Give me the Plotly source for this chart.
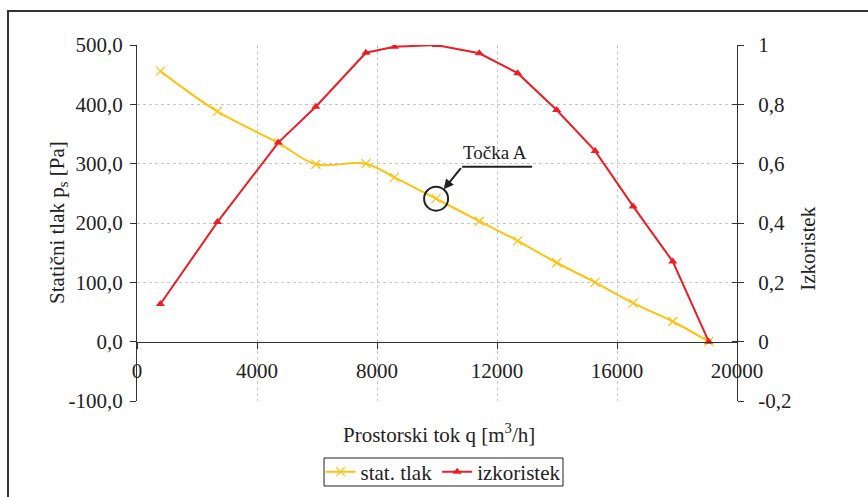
import plotly.graph_objects as go

# ---- data ----
q = [780, 2680, 4710, 5960, 7630, 8580, 9970, 11410, 12690, 13990, 15270, 16540, 17860, 19060]
stat_tlak = [456, 388, 335, 299, 300, 277, 241, 203, 170, 133, 100, 65, 34, 0]
izkoristek = [0.127, 0.403, 0.671, 0.792, 0.974, 0.994, 1.0, 0.972, 0.905, 0.781, 0.643, 0.456, 0.27, 0.0]

x_ticks = [0, 4000, 8000, 12000, 16000, 20000]
x_ticktext = ["0", "4000", "8000", "12000", "16000", "20000"]
y_ticks = [-100, 0, 100, 200, 300, 400, 500]
y_ticktext = ["-100,0", "0,0", "100,0", "200,0", "300,0", "400,0", "500,0"]
y_grid = [-100, 100, 200, 300, 400]
y2_ticks = [-0.2, 0, 0.2, 0.4, 0.6, 0.8, 1.0]
y2_ticktext = ["-0,2", "0", "0,2", "0,4", "0,6", "0,8", "1"]

point_A = (9970, 241)

FONT = "Liberation Serif"
TXT = "#222222"
AX = "#333333"
YEL = "#FFC20E"
RED = "#EE1C25"

fig = go.Figure()

fig.add_trace(go.Scatter(
    x=q, y=stat_tlak, name="stat. tlak", mode="lines+markers",
    line=dict(color=YEL, width=2, shape="spline", smoothing=1.0),
    marker=dict(symbol="x-thin", size=9, line=dict(color=YEL, width=1.2)),
    yaxis="y", xaxis="x",
))
fig.add_trace(go.Scatter(
    x=q, y=izkoristek, name="izkoristek", mode="lines+markers",
    line=dict(color=RED, width=2),
    marker=dict(symbol="triangle-up", size=8, color=RED),
    yaxis="y2", xaxis="x",
))
# helper traces for grid axis and inner ticks of right axis
fig.add_trace(go.Scatter(x=[None], y=[None], yaxis="y3", showlegend=False, hoverinfo="skip"))
fig.add_trace(go.Scatter(x=[None], y=[None], yaxis="y4", showlegend=False, hoverinfo="skip"))

yr = [-100, 500]
y2r = [-0.2, 1.0]

fig.update_layout(
    width=868, height=497,
    margin=dict(l=137, r=131, t=45, b=96, autoexpand=False),
    paper_bgcolor="white", plot_bgcolor="white",
    font=dict(family=FONT, size=21, color=TXT),
    showlegend=True,
    legend=dict(orientation="h", xref="container", yref="container",
                x=0.5104, xanchor="center", y=1 - 472 / 497, yanchor="middle",
                borderwidth=0, itemwidth=30,
                font=dict(family=FONT, size=21, color=TXT), bgcolor="rgba(0,0,0,0)",
                tracegroupgap=0),
    xaxis=dict(range=[0, 20000], tickvals=x_ticks, ticktext=x_ticktext,
               anchor="free", position=1/6, automargin=False,
               showline=True, linecolor=AX, linewidth=1,
               ticks="outside", ticklen=6, tickcolor=AX,
               showgrid=True, gridcolor="#c8c8c8", griddash="dot", gridwidth=1,
               zeroline=False, ticklabelstandoff=4),
    yaxis=dict(range=yr, tickvals=y_ticks, ticktext=y_ticktext, automargin=False,
               showline=True, linecolor=AX, linewidth=1,
               ticks="outside", ticklen=6, tickcolor=AX,
               showgrid=False, zeroline=False, ticklabelstandoff=3),
    yaxis2=dict(range=y2r, tickvals=y2_ticks, ticktext=y2_ticktext,
                overlaying="y", side="right", anchor="x", automargin=False,
                showline=True, linecolor=AX, linewidth=1,
                ticks="outside", ticklen=6, tickcolor=AX,
                showgrid=False, zeroline=False, ticklabelstandoff=10),
    yaxis3=dict(range=yr, tickvals=y_grid, overlaying="y", showticklabels=False,
                automargin=False,
                ticks="", showline=False, showgrid=True, gridcolor="#c8c8c8",
                griddash="dot", gridwidth=1, zeroline=False),
    yaxis4=dict(range=y2r, tickvals=y2_ticks, overlaying="y", side="right", anchor="x",
                automargin=False,
                showticklabels=False, ticks="inside", ticklen=5, tickcolor=AX,
                showline=False, showgrid=False, zeroline=False),
)

annotations = [
    dict(text="Prostorski tok q [m<sup>3</sup>/h]", xref="paper", yref="paper",
         x=0.503, y=-0.09, xanchor="center", yanchor="middle", showarrow=False,
         font=dict(family=FONT, size=21, color=TXT)),
    dict(text="Statični tlak p<sub>s</sub> [Pa]", xref="paper", yref="paper",
         x=-0.1317, y=0.503, xanchor="center", yanchor="middle", textangle=-90,
         showarrow=False, font=dict(family=FONT, size=21, color=TXT)),
    dict(text="Izkoristek", xref="paper", yref="paper",
         x=1.118, y=0.427, xanchor="center", yanchor="middle", textangle=-90,
         showarrow=False, font=dict(family=FONT, size=21, color=TXT)),
    dict(text="Točka A", x=point_A[0], y=point_A[1], xref="x", yref="y",
         xshift=59, yshift=46, showarrow=False,
         font=dict(family=FONT, size=19, color=TXT)),
    dict(text="", x=point_A[0], y=point_A[1], xref="x", yref="y",
         showarrow=True, ax=26, ay=-32, axref="pixel", ayref="pixel",
         arrowhead=2, arrowsize=1, arrowwidth=2, arrowcolor="#222222", standoff=12),
]
fig.update_layout(annotations=annotations)

shapes = [
    # outer frame (left and top visible)
    dict(type="rect", xref="paper", yref="paper", x0=-0.215, x1=1.30, y0=-0.40, y1=1.0955,
         line=dict(color="#333333", width=2), fillcolor="rgba(0,0,0,0)", layer="below"),
    # legend frame
    dict(type="rect", xref="paper", yref="paper", x0=0.3117, x1=0.71, y0=-0.2388, y1=-0.1601,
         line=dict(color="#222222", width=1), fillcolor="white", layer="below"),
    # circle around point A
    dict(type="circle", xref="x", yref="y", xsizemode="pixel", ysizemode="pixel",
         xanchor=point_A[0], yanchor=point_A[1], x0=-12, x1=12, y0=-12, y1=12,
         line=dict(color="#222222", width=2)),
    # horizontal leader line under the label
    dict(type="line", xref="x", yref="y", xsizemode="pixel", ysizemode="pixel",
         xanchor=point_A[0], yanchor=point_A[1], x0=26, x1=96, y0=32, y1=32,
         line=dict(color="#222222", width=2)),
]
fig.update_layout(shapes=shapes)

fig.write_html("out.html")
